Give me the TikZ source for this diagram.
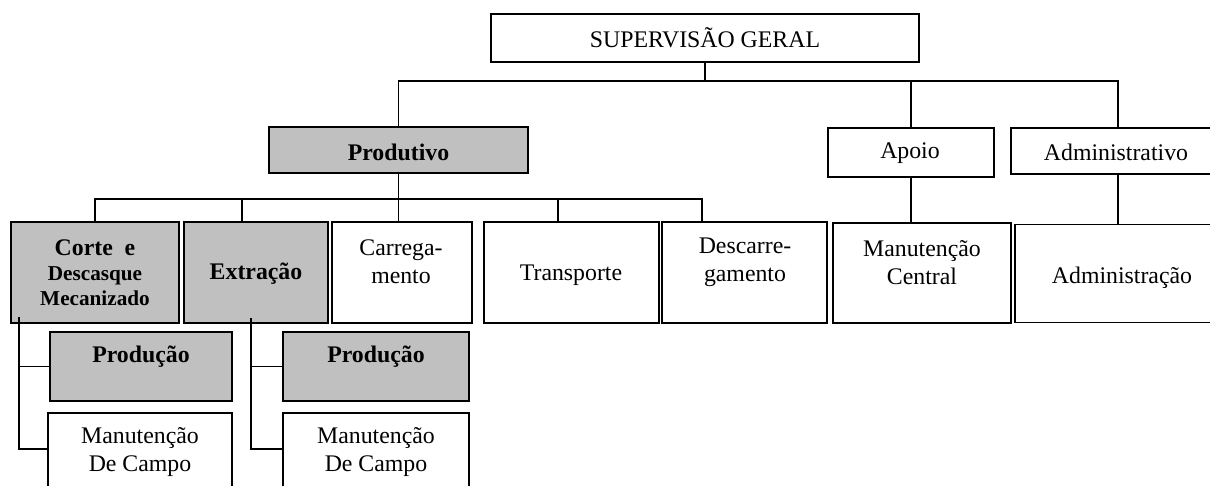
\documentclass[tikz,border=0pt]{standalone}
\usepackage{fontspec}
\setmainfont{Liberation Serif}
\usepackage{tikz}

\definecolor{boxgray}{HTML}{C0C0C0}

\tikzset{
    orgbox/.style={draw, line width=0.9pt, inner sep=0pt},
    graybox/.style={orgbox, fill=boxgray},
    boxtext/.style={align=center, inner sep=0pt,
        font=\fontsize{11.9}{14}\selectfont},
    boldtext/.style={boxtext, font=\fontsize{11.9}{14}\selectfont\bfseries},
    link/.style={line width=0.9pt}
}

\begin{document}
\begin{tikzpicture}[x=0.5pt, y=-0.5pt]

\clip (0,0) rectangle (1210,486);

% top level
\node[orgbox, minimum width=214pt, minimum height=24pt] (sup) at (705,38) {};
\node[boxtext] (sup-t) at (705,38) {SUPERVISÃO GERAL};

% second level
\node[graybox, minimum width=129.5pt, minimum height=23pt] (produtivo) at (398.5,150) {};
\node[boldtext] (produtivo-t) at (398.5,152) {Produtivo};

\node[orgbox, minimum width=83pt, minimum height=24.5pt] (apoio) at (911,152.5) {};
\node[boxtext] (apoio-t) at (910,153) {Apoio};

\node[orgbox, minimum width=107pt, minimum height=23pt] (admv) at (1118,151) {};
\node[boxtext] (admv-t) at (1116,152) {Administrativo};

% third level
\node[graybox, minimum width=84pt, minimum height=50.5pt] (corte) at (95,272.5) {};
\node[boldtext, font=\fontsize{10.6}{12.5}\selectfont\bfseries] (corte-t) at (95,273)
    {{\fontsize{11.9}{12.5}\selectfont Corte\ \ e}\\
     Descasque\\
     Mecanizado};

\node[graybox, minimum width=72pt, minimum height=50.5pt] (extr) at (256,272.5) {};
\node[boldtext] (extr-t) at (256,274) {Extração};

\node[orgbox, minimum width=70pt, minimum height=50.5pt] (carr) at (402,272.5) {};
\node[boxtext] (carr-t) at (401,262) {Carrega-\\mento};

\node[orgbox, minimum width=87.5pt, minimum height=50.5pt] (transp) at (571.5,272.5) {};
\node[boxtext] (transp-t) at (571,275) {Transporte};

\node[orgbox, minimum width=82.5pt, minimum height=50.5pt] (descarr) at (744.5,272.5) {};
\node[boxtext] (descarr-t) at (745,262) {Descarre-\\gamento};

\node[orgbox, minimum width=89pt, minimum height=50pt] (mancen) at (922,273) {};
\node[boxtext] (mancen-t) at (922,263) {Manutenção\\Central};

\node[orgbox, minimum width=103pt, minimum height=49pt] (admin) at (1118,273.5) {};
\node[boxtext] (admin-t) at (1122,278) {Administração};

% fourth level
\node[graybox, minimum width=91pt, minimum height=34.5pt] (prod1) at (141,366.5) {};
\node[boldtext] (prod1-t) at (141,357) {Produção};

\node[orgbox, minimum width=92pt, minimum height=39pt] (man1) at (140,452) {};
\node[boxtext] (man1-t) at (140,452) {Manutenção\\De Campo};

\node[graybox, minimum width=93pt, minimum height=34.5pt] (prod2) at (376,366.5) {};
\node[boldtext] (prod2-t) at (376,357) {Produção};

\node[orgbox, minimum width=93pt, minimum height=39pt] (man2) at (376,452) {};
\node[boxtext] (man2-t) at (376,452) {Manutenção\\De Campo};

% bus levels and stems
\coordinate (topbus) at (0,81);
\coordinate (lowbus) at (0,199);
\coordinate (s-extr) at (242,199);
\coordinate (s-transp) at (558,199);
\coordinate (s-descarr) at (702,199);
\coordinate (s-corte) at (19,317);
\coordinate (s-extrsub) at (251,318);

% connectors
\draw[link] (sup.south) -- (sup.south |- topbus);
\draw[link] (produtivo.north) |- (topbus -| admv.north) -- (admv.north);
\draw[link] (apoio.north |- topbus) -- (apoio.north);

\draw[link] (produtivo.south) -- (produtivo.south |- carr.north);
\draw[link] (corte.north) |- (s-descarr) -- (s-descarr |- descarr.north);
\draw[link] (s-extr) -- (s-extr |- extr.north);
\draw[link] (s-transp) -- (s-transp |- transp.north);

\draw[link] (apoio.south) -- (apoio.south |- mancen.north);
\draw[link] (admv.south) -- (admin.north);

\draw[link] (s-corte) |- ([yshift=1.5pt]man1.west);
\draw[link] (s-corte |- prod1.west) -- (prod1.west);
\draw[link] (s-extrsub) |- ([yshift=1.5pt]man2.west);
\draw[link] (s-extrsub |- prod2.west) -- (prod2.west);

\end{tikzpicture}
\end{document}
